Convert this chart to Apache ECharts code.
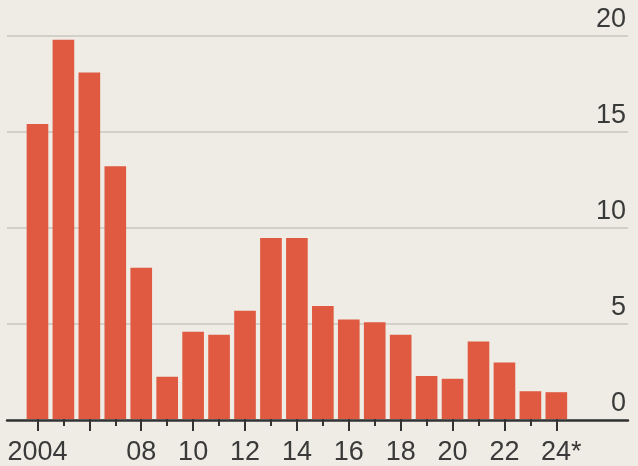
<!DOCTYPE html>
<html>
<head>
<meta charset="utf-8">
<script src="https://cdn.jsdelivr.net/npm/echarts@6/dist/echarts.min.js"></script>
<style>
html,body{margin:0;padding:0;background:#eeece4;}
#c{width:638px;height:466px;}
</style>
</head>
<body>
<div id="c"></div>
<script>
var years = ['2004','2005','2006','2007','2008','2009','2010','2011','2012','2013','2014','2015','2016','2017','2018','2019','2020','2021','2022','2023','2024'];
var tickLabels = ['2004','','','','08','','10','','12','','14','','16','','18','','20','','22','','24*'];
var values = [15.4, 19.8, 18.1, 13.2, 7.9, 2.2, 4.55, 4.4, 5.65, 9.45, 9.45, 5.9, 5.2, 5.05, 4.4, 2.25, 2.1, 4.05, 2.95, 1.45, 1.4];
var yTicks = [0, 5, 10, 15, 20];

var chart = echarts.init(document.getElementById('c'), null, {renderer: 'canvas'});
var font = '"Liberation Sans", Arial, sans-serif';
var option = {
  backgroundColor: '#eeece4',
  animation: false,
  grid: [
    {left: 7, right: 10, top: 36, bottom: 46, containLabel: false},
    {left: 24.5, right: 68.7, top: 36, bottom: 46, containLabel: false}
  ],
  xAxis: [
    {gridIndex: 0, type: 'value', min: 0, max: 1, position: 'bottom',
     axisLine: {show: true, onZero: false, lineStyle: {color: '#333', width: 2.5}},
     axisTick: {show: false}, axisLabel: {show: false}, splitLine: {show: false}},
    {gridIndex: 1, type: 'category', data: years, position: 'bottom',
     axisLine: {show: false},
     axisTick: {show: true, alignWithLabel: true, interval: 0, length: 7, lineStyle: {color: '#333', width: 2}},
     axisLabel: {show: false}, splitLine: {show: false}},
    {gridIndex: 1, type: 'category', data: years, position: 'bottom',
     axisLine: {show: false},
     axisTick: {show: true, alignWithLabel: true, interval: 1, length: 12, lineStyle: {color: '#333', width: 2}},
     axisLabel: {show: true, interval: 0, margin: 20, color: '#3a3a3a', fontSize: 27, fontFamily: font,
       formatter: function (v, i) {
         var t = tickLabels[i];
         if (t.indexOf('*') >= 0) return '{s|}' + t;
         return t;
       },
       rich: {s: {width: 10}}
     },
     splitLine: {show: false}}
  ],
  yAxis: [
    {gridIndex: 0, type: 'value', min: yTicks[0], max: yTicks[yTicks.length - 1], interval: 5, position: 'right',
     axisLine: {show: false}, axisTick: {show: false},
     axisLabel: {show: true, inside: true, margin: 2, verticalAlign: 'bottom', align: 'right', padding: [0, 0, 3, 0],
       color: '#3a3a3a', fontSize: 27, fontFamily: font,
       formatter: function (v) { return yTicks.indexOf(v) >= 0 ? String(v) : ''; }},
     splitLine: {show: true, lineStyle: {color: '#c9c7bf', width: 1.5}}},
    {gridIndex: 1, type: 'value', min: 0, max: 20, interval: 5, show: false}
  ],
  series: [
    {type: 'bar', xAxisIndex: 1, yAxisIndex: 1, data: values, barCategoryGap: '16.6%',
     itemStyle: {color: '#e05a41'}, z: 1}
  ]
};
chart.setOption(option);
</script>
</body>
</html>
